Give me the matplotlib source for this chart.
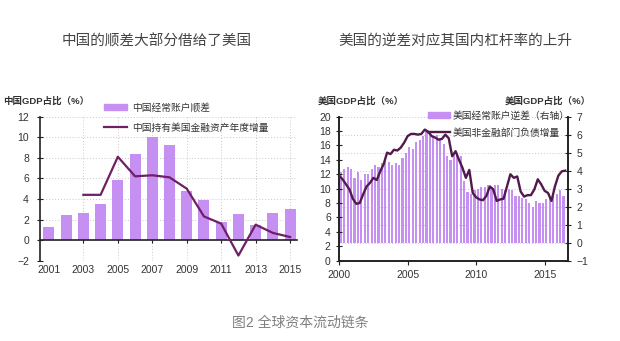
import matplotlib
matplotlib.use("Agg")
import matplotlib.pyplot as plt
from matplotlib.patches import Patch
from matplotlib.lines import Line2D

plt.rcParams['font.family'] = ['Liberation Sans', 'Noto Sans CJK SC']

# China: current account surplus and yearly increase of US financial assets (% of GDP)
cn_years = list(range(2001, 2016))
cn_surplus = [1.3, 2.4, 2.6, 3.5, 5.8, 8.4, 10.0, 9.2, 4.8, 3.9, 1.8, 2.5, 1.5, 2.6, 3.0]
cn_asset_years = list(range(2003, 2016))
cn_us_assets = [4.4, 4.4, 8.1, 6.2, 6.3, 6.1, 5.0, 2.3, 1.6, -1.5, 1.5, 0.7, 0.3]

# US quarterly: current account deficit (right axis) and non-financial debt growth (left axis)
us_deficit = [3.9, 4.1, 4.2, 4.1,
              3.6, 3.9, 3.5, 3.8,
              3.8, 4.1, 4.3, 4.2,
              4.4, 4.7, 4.5, 4.3,
              4.4, 4.3, 4.7, 5.0,
              5.3, 5.2, 5.6, 5.7,
              5.9, 6.2, 6.1, 5.9,
              6.0, 5.8, 5.5, 4.8,
              4.6, 4.9, 5.0, 4.8,
              3.4, 2.8, 2.7, 2.9,
              3.0, 3.1, 3.1, 3.2,
              3.1, 3.2, 3.2, 3.0,
              2.9, 3.0, 2.9, 2.6,
              2.6, 2.5, 2.4, 2.2,
              2.0, 2.3, 2.2, 2.2,
              2.4, 2.5, 2.6, 2.7,
              2.9, 2.6]
us_debt = [11.8, 11.3, 10.6, 9.9,
           8.6, 7.9, 8.0, 9.2,
           10.3, 10.8, 11.5, 11.2,
           12.4, 13.4, 15.0, 14.8,
           15.4, 15.3, 15.7, 16.4,
           17.3, 17.6, 17.6, 17.5,
           17.6, 18.2, 17.9, 17.3,
           17.1, 16.8, 16.9, 17.5,
           17.0, 14.5, 15.2, 14.0,
           12.9, 11.5, 12.6, 9.4,
           8.8, 8.5, 8.4, 9.0,
           10.3, 9.9, 8.3, 8.5,
           8.6, 10.3, 12.0, 11.5,
           11.7, 9.6, 8.9, 9.1,
           9.1, 9.9, 11.3, 10.6,
           9.7, 9.4, 8.3, 10.3,
           11.8, 12.4, 12.5]
us_bar_x = [2000.125 + i / 4 for i in range(len(us_deficit))]
us_line_x = [2000 + i / 4 for i in range(len(us_debt))]

bar_color = '#c590f2'
line_color_cn = '#6e1f66'
line_color_us = '#521a4c'
text_color = '#333333'
grid_kw = dict(color='#c8c8c8', linestyle=(0, (1, 2)), linewidth=0.7)

fig = plt.figure(figsize=(6.2, 3.41), dpi=100)

# ---- left panel ----
ax1 = fig.add_axes([0.0645, 0.2355, 0.4145, 0.4225])
ax1.bar(cn_years, cn_surplus, width=0.64, color=bar_color, zorder=2)
ax1.plot(cn_asset_years, cn_us_assets, color=line_color_cn, linewidth=1.6, zorder=3)
ax1.set_xlim(2000.48, 2015.4)
ax1.set_ylim(-2, 12)
ax1.set_yticks(range(-2, 13, 2))
for s in ['top', 'right']:
    ax1.spines[s].set_visible(False)
ax1.spines['left'].set_color('#222222')
ax1.spines['left'].set_linewidth(1.2)
ax1.spines['bottom'].set_position(('data', 0))
ax1.spines['bottom'].set_color('#222222')
ax1.spines['bottom'].set_linewidth(1.2)
ax1.set_xticks(range(2003, 2016, 2))
ax1.set_xticklabels([])
ax1.tick_params(axis='x', direction='inout', length=4, color='#222222')
ax1.tick_params(axis='y', direction='inout', length=4, labelsize=7.5,
                labelcolor=text_color, pad=6, color='#222222')
ax1.grid(True, axis='both', zorder=0, **grid_kw)
ax1.set_axisbelow(True)
sec = ax1.secondary_xaxis('bottom')
sec.set_xticks(range(2001, 2016, 2))
sec.spines['bottom'].set_visible(False)
sec.tick_params(length=0, labelsize=7.5, labelcolor=text_color, pad=3)

ax1.legend(handles=[Patch(color=bar_color, label='中国经常账户顺差'),
                    Line2D([], [], color=line_color_cn, lw=1.6, label='中国持有美国金融资产年度增量')],
           loc='upper left', bbox_to_anchor=(0.168, 0.7), bbox_transform=fig.transFigure,
           frameon=False, fontsize=7, handlelength=2.3, handleheight=0.6,
           labelspacing=1.05, handletextpad=0.6, borderaxespad=0, borderpad=0,
           labelcolor=text_color)

# ---- right panel ----
ax2 = fig.add_axes([0.547, 0.2355, 0.369, 0.4225])
ax2r = ax2.twinx()
ax2r.bar(us_bar_x, us_deficit, width=0.16, color=bar_color, zorder=2)
ax2.plot(us_line_x, us_debt, color=line_color_us, linewidth=1.7, zorder=5)
ax2.set_zorder(ax2r.get_zorder() + 1)
ax2.patch.set_visible(False)
ax2.set_xlim(2000, 2016.7)
ax2.set_ylim(0, 20)
ax2r.set_ylim(-1, 7)
ax2.set_yticks(range(0, 21, 2))
ax2r.set_yticks(range(-1, 8))
ax2.set_xticks([2000, 2005, 2010, 2015])
for a in (ax2, ax2r):
    a.spines['top'].set_visible(False)
    for s in ['left', 'right', 'bottom']:
        a.spines[s].set_color('#222222')
        a.spines[s].set_linewidth(1.2)
ax2.tick_params(axis='x', direction='out', length=3, labelsize=7.5,
                labelcolor=text_color, pad=4, color='#222222')
ax2.tick_params(axis='y', direction='inout', length=4, labelsize=7.5,
                labelcolor=text_color, pad=4, color='#222222')
ax2r.tick_params(axis='y', direction='inout', length=4, labelsize=7.5,
                 labelcolor=text_color, pad=4, color='#222222')
ax2r.grid(True, axis='both', zorder=0, **grid_kw)
ax2r.set_axisbelow(True)

ax2.legend(handles=[Patch(color=bar_color, label='美国经常账户逆差（右轴）'),
                    Line2D([], [], color=line_color_us, lw=1.7, label='美国非金融部门负债增量')],
           loc='upper left', bbox_to_anchor=(0.69, 0.675), bbox_transform=fig.transFigure,
           frameon=False, fontsize=7, handlelength=2.3, handleheight=0.6,
           labelspacing=0.7, handletextpad=0.3, borderaxespad=0, borderpad=0,
           labelcolor=text_color)

# ---- titles and axis captions ----
fig.text(0.252, 0.88, '中国的顺差大部分借给了美国', ha='center', va='center',
         fontsize=10.5, color='#444444')
fig.text(0.734, 0.88, '美国的逆差对应其国内杠杆率的上升', ha='center', va='center',
         fontsize=10.5, color='#444444')
fig.text(0.005, 0.703, '中国GDP占比（%）', ha='left', va='center', fontsize=6.8,
         color=text_color, fontweight='bold')
fig.text(0.513, 0.703, '美国GDP占比（%）', ha='left', va='center', fontsize=6.8,
         color=text_color, fontweight='bold')
fig.text(0.953, 0.703, '美国GDP占比（%）', ha='right', va='center', fontsize=6.8,
         color=text_color, fontweight='bold')
fig.text(0.484, 0.055, '图2 全球资本流动链条', ha='center', va='center',
         fontsize=10, color='#808080')

fig.savefig('out.png', dpi=100, facecolor='white')
